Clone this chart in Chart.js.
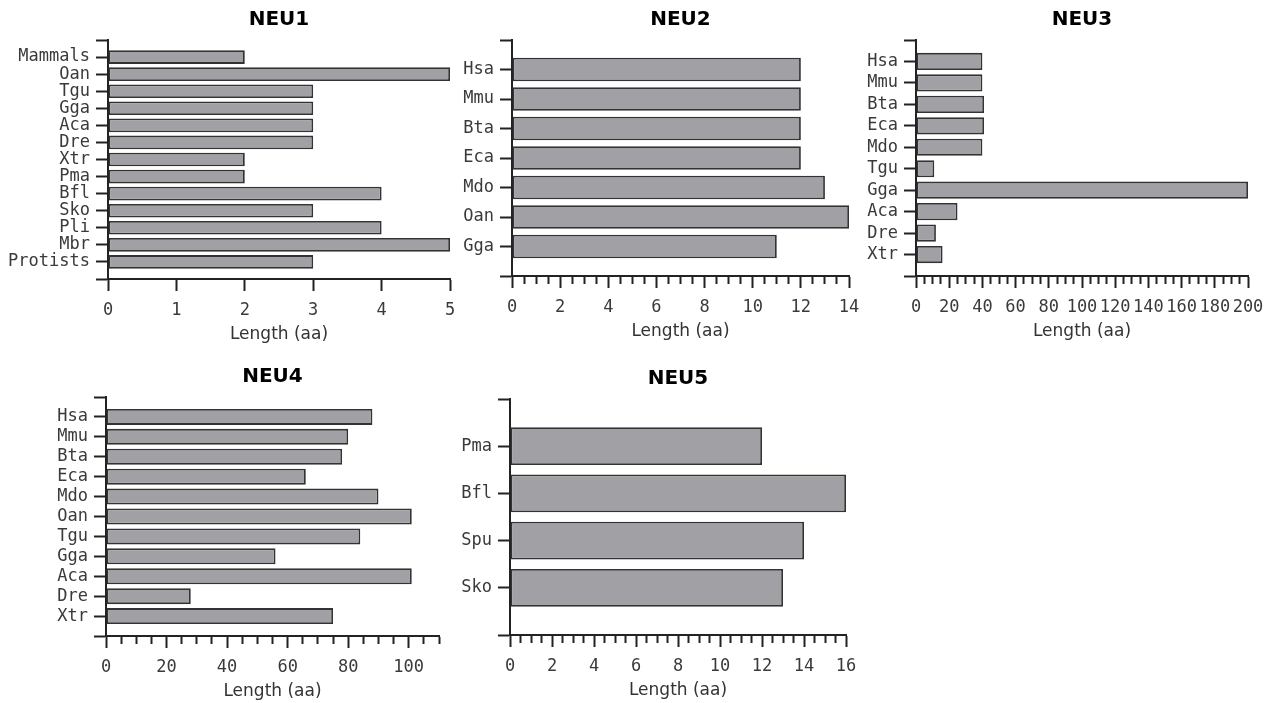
<!DOCTYPE html>
<html><head><meta charset="utf-8">
<script src="https://cdn.jsdelivr.net/npm/chart.js@4"></script>
<style>
html,body{margin:0;padding:0;background:#fff;width:1270px;height:703px;overflow:hidden}
canvas{position:absolute}
</style></head><body>
<canvas id="c1"></canvas>
<canvas id="c2"></canvas>
<canvas id="c3"></canvas>
<canvas id="c4"></canvas>
<canvas id="c5"></canvas>
<script>
// ---- data ----
const neu1Categories = ['Mammals','Oan','Tgu','Gga','Aca','Dre','Xtr','Pma','Bfl','Sko','Pli','Mbr','Protists'];
const neu1Values = [2,5,3,3,3,3,2,2,4,3,4,5,3];

const neu2Categories = ['Hsa','Mmu','Bta','Eca','Mdo','Oan','Gga'];
const neu2Values = [12,12,12,12,13,14,11];

const neu3Categories = ['Hsa','Mmu','Bta','Eca','Mdo','Tgu','Gga','Aca','Dre','Xtr'];
const neu3Values = [40,40,41,41,40,11,200,25,12,16];

const neu4Categories = ['Hsa','Mmu','Bta','Eca','Mdo','Oan','Tgu','Gga','Aca','Dre','Xtr'];
const neu4Values = [88,80,78,66,90,101,84,56,101,28,75];

const neu5Categories = ['Pma','Bfl','Spu','Sko'];
const neu5Values = [12,16,14,13];

const xTitle = 'Length (aa)';

// ---- styling / layout ----
const MONO = "'DejaVu Sans Mono', monospace";
const SANS = "'DejaVu Sans', sans-serif";
const AXIS = '#222';
const Y_W = 100, X_H = 72, PAD_R = 35;

function makeChart(id, title, cats, vals, xMax, major, minor, area) {
  const cv = document.getElementById(id);
  const L = area.left - Y_W, T = area.top - 40;
  const W = Math.round(area.right + PAD_R - L), H = Math.round(area.bottom + X_H - T);
  cv.width = W; cv.height = H;
  cv.style.left = L + 'px'; cv.style.top = T + 'px';
  cv.style.width = W + 'px'; cv.style.height = H + 'px';
  const labels = [''].concat(cats, ['']);
  const data = [null].concat(vals, [null]);
  const isMajor = v => Math.abs(v / major - Math.round(v / major)) < 1e-6;
  return new Chart(cv, {
    type: 'bar',
    data: { labels, datasets: [{
      data,
      backgroundColor: '#a0a0a5',
      borderColor: '#333',
      borderWidth: 1.8,
      borderSkipped: false,
      barPercentage: 0.8,
      categoryPercentage: 1
    }]},
    options: {
      indexAxis: 'y',
      responsive: false,
      animation: false,
      layout: { padding: { left: 0, right: PAD_R, top: 0, bottom: 0 } },
      plugins: {
        legend: { display: false },
        tooltip: { enabled: false },
        title: {
          display: true, text: title, fullSize: false, color: '#000',
          font: { family: SANS, size: 20, weight: 'bold' },
          padding: { top: 8, bottom: 8 }
        }
      },
      scales: {
        x: {
          type: 'linear', min: 0, max: xMax,
          afterFit: s => { s.height = X_H; },
          border: { color: AXIS, width: 2 },
          grid: {
            drawOnChartArea: false, drawTicks: true, tickLength: 12,
            tickColor: AXIS, tickWidth: 2,
            tickBorderDash: ctx => (ctx.tick && !isMajor(ctx.tick.value)) ? [7, 30] : []
          },
          ticks: {
            stepSize: minor, autoSkip: false, maxRotation: 0, minRotation: 0,
            color: '#3a3a3a', padding: 9,
            font: { family: MONO, size: 17 },
            callback: v => isMajor(v) ? String(Math.round(v)) : ''
          },
          title: {
            display: true, text: xTitle, color: '#333',
            font: { family: SANS, size: 17 },
            padding: { top: 0, bottom: 6 }
          }
        },
        y: {
          type: 'category', offset: false,
          afterFit: s => { s.width = Y_W; },
          border: { color: AXIS, width: 2 },
          grid: {
            offset: false,
            drawOnChartArea: false, drawTicks: true, tickLength: 12,
            tickColor: AXIS, tickWidth: 2
          },
          ticks: {
            autoSkip: false, color: '#3a3a3a', padding: 6,
            font: { family: MONO, size: 17 }
          }
        }
      }
    }
  });
}

makeChart('c1', 'NEU1', neu1Categories, neu1Values, 5, 1, 1, {left:108, right:450, top:40, bottom:279});
makeChart('c2', 'NEU2', neu2Categories, neu2Values, 14, 2, 0.5, {left:512, right:849, top:40, bottom:276});
makeChart('c3', 'NEU3', neu3Categories, neu3Values, 200, 20, 5, {left:916, right:1248, top:40, bottom:276});
makeChart('c4', 'NEU4', neu4Categories, neu4Values, 110, 20, 5, {left:106, right:439, top:397, bottom:636});
makeChart('c5', 'NEU5', neu5Categories, neu5Values, 16, 2, 0.5, {left:510, right:846, top:399, bottom:635});
</script>
</body></html>
